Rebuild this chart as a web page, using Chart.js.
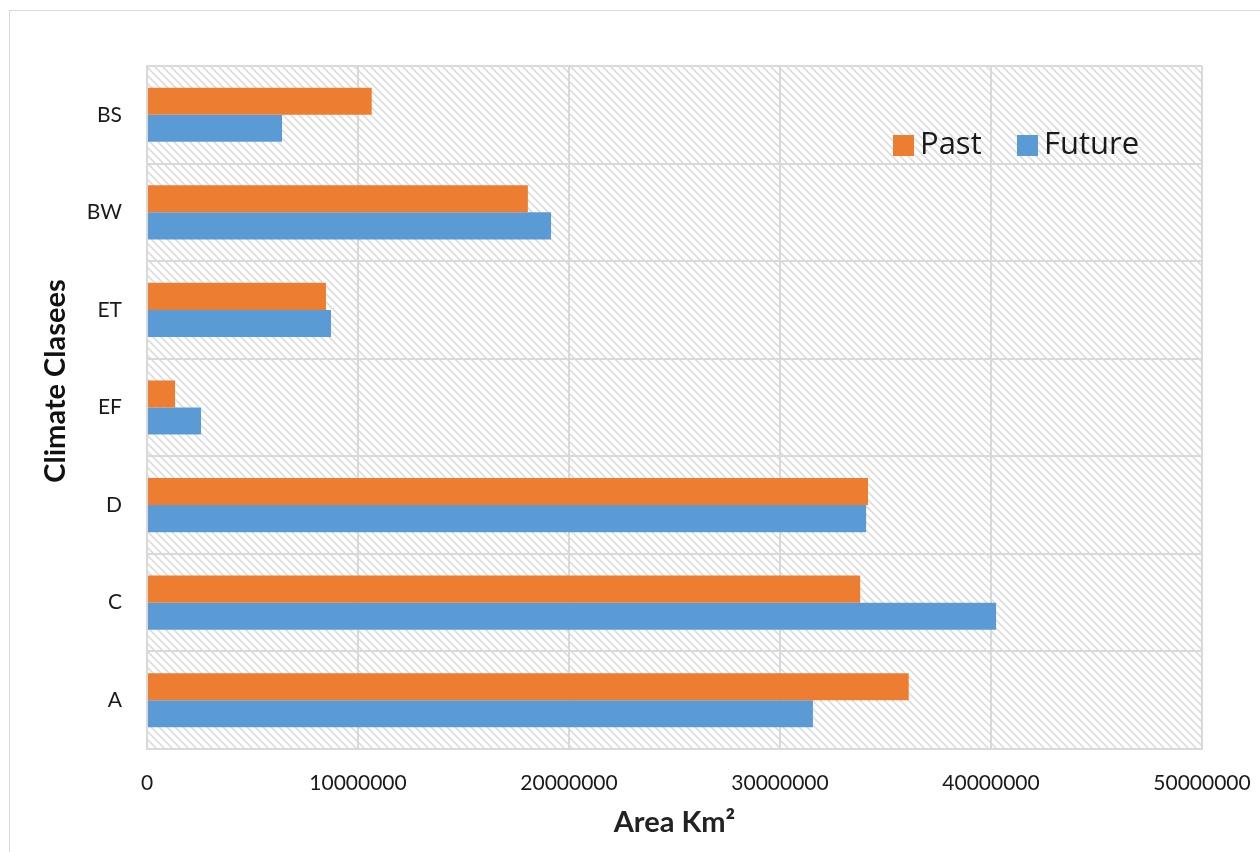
<!DOCTYPE html>
<html>
<head>
<meta charset="utf-8">
<script src="https://cdn.jsdelivr.net/npm/chart.js@4"></script>
<style>
html,body{margin:0;padding:0;background:#fff;overflow:hidden;}
#wrap{position:relative;width:1260px;height:852px;}
#frame{position:absolute;left:9px;top:10px;width:1300px;height:900px;border:1.5px solid #d9d9d9;box-sizing:border-box;pointer-events:none;}
canvas{position:absolute;left:0;top:0;}
</style>
</head>
<body>
<div id="wrap">
<div id="frame"></div>
<canvas id="c" width="1260" height="852"></canvas>
</div>
<script>
const categories = ['BS','BW','ET','EF','D','C','A'];
const pastValues = [10650000, 18050000, 8480000, 1330000, 34170000, 33800000, 36100000];
const futureValues = [6400000, 19150000, 8720000, 2560000, 34080000, 40240000, 31560000];
const xTicks = [0, 10000000, 20000000, 30000000, 40000000, 50000000];
const yTitle = 'Climate Clasees';
const xTitle = 'Area Km²';

const FONT = 'Lato, "Open Sans", sans-serif';
const LEGEND_FONT = '"Open Sans", Lato, sans-serif';

const hatchPlugin = {
  id: 'hatch',
  beforeDraw(chart) {
    const {ctx, chartArea: a} = chart;
    const p = document.createElement('canvas');
    p.width = 8; p.height = 8;
    const pc = p.getContext('2d');
    pc.strokeStyle = '#dcdcdc';
    pc.lineWidth = 1.6;
    pc.beginPath();
    pc.moveTo(-2, -2); pc.lineTo(10, 10);
    pc.moveTo(-2, 6); pc.lineTo(2, 10);
    pc.moveTo(6, -2); pc.lineTo(10, 2);
    pc.stroke();
    ctx.save();
    ctx.fillStyle = ctx.createPattern(p, 'repeat');
    ctx.fillRect(a.left, a.top, a.right - a.left, a.bottom - a.top);
    ctx.restore();
  }
};

const overlayPlugin = {
  id: 'overlay',
  afterDraw(chart) {
    const ctx = chart.ctx;
    const items = [
      {x: 893, label: chart.data.datasets[0].label, color: chart.data.datasets[0].backgroundColor},
      {x: 1017, label: chart.data.datasets[1].label, color: chart.data.datasets[1].backgroundColor}
    ];
    ctx.save();
    ctx.font = '31px ' + LEGEND_FONT;
    ctx.textBaseline = 'middle';
    ctx.textAlign = 'left';
    items.forEach(it => {
      ctx.fillStyle = it.color;
      ctx.fillRect(it.x, 135, 21, 21);
      ctx.fillStyle = '#1a1a1a';
      ctx.fillText(it.label, it.x + 27, 145);
    });
    // y axis title
    ctx.translate(56, 381);
    ctx.rotate(-Math.PI / 2);
    ctx.font = 'bold 29px ' + FONT;
    ctx.textAlign = 'center';
    ctx.fillStyle = '#111';
    ctx.fillText(yTitle, 0, 0);
    ctx.restore();
  }
};

new Chart(document.getElementById('c'), {
  type: 'bar',
  data: {
    labels: categories,
    datasets: [
      {label: 'Past', data: pastValues, backgroundColor: '#ed7d31', borderWidth: 0},
      {label: 'Future', data: futureValues, backgroundColor: '#5b9bd5', borderWidth: 0}
    ]
  },
  options: {
    indexAxis: 'y',
    responsive: false,
    animation: false,
    devicePixelRatio: 1,
    categoryPercentage: 0.555,
    barPercentage: 1,
    layout: {padding: {left: 0, top: 66, right: 58, bottom: 0}},
    plugins: {legend: {display: false}, tooltip: {enabled: false}},
    scales: {
      x: {
        min: 0, max: 50000000,
        afterBuildTicks(s) { s.ticks = xTicks.map(v => ({value: v})); },
        afterFit(s) { s.height = 103; s.paddingRight = 0; s.paddingLeft = 0; },
        grid: {color: '#d9d9d9', lineWidth: 2, drawTicks: false},
        border: {color: '#d9d9d9', width: 2},
        ticks: {color: '#1a1a1a', font: {family: FONT, size: 21}, padding: 22, maxRotation: 0,
          callback: v => String(v)},
        title: {display: true, text: xTitle, color: '#222', font: {family: FONT, size: 29, weight: 'bold'}, padding: {top: 4, bottom: 12}}
      },
      y: {
        afterFit(s) { s.width = 147; s.paddingTop = 0; s.paddingBottom = 0; },
        grid: {color: '#d9d9d9', lineWidth: 2, drawTicks: false, offset: true},
        border: {color: '#d9d9d9', width: 2},
        ticks: {color: '#1a1a1a', font: {family: FONT, size: 21}, padding: 25},
        title: {display: false}
      }
    }
  },
  plugins: [hatchPlugin, overlayPlugin]
});
</script>
</body>
</html>
